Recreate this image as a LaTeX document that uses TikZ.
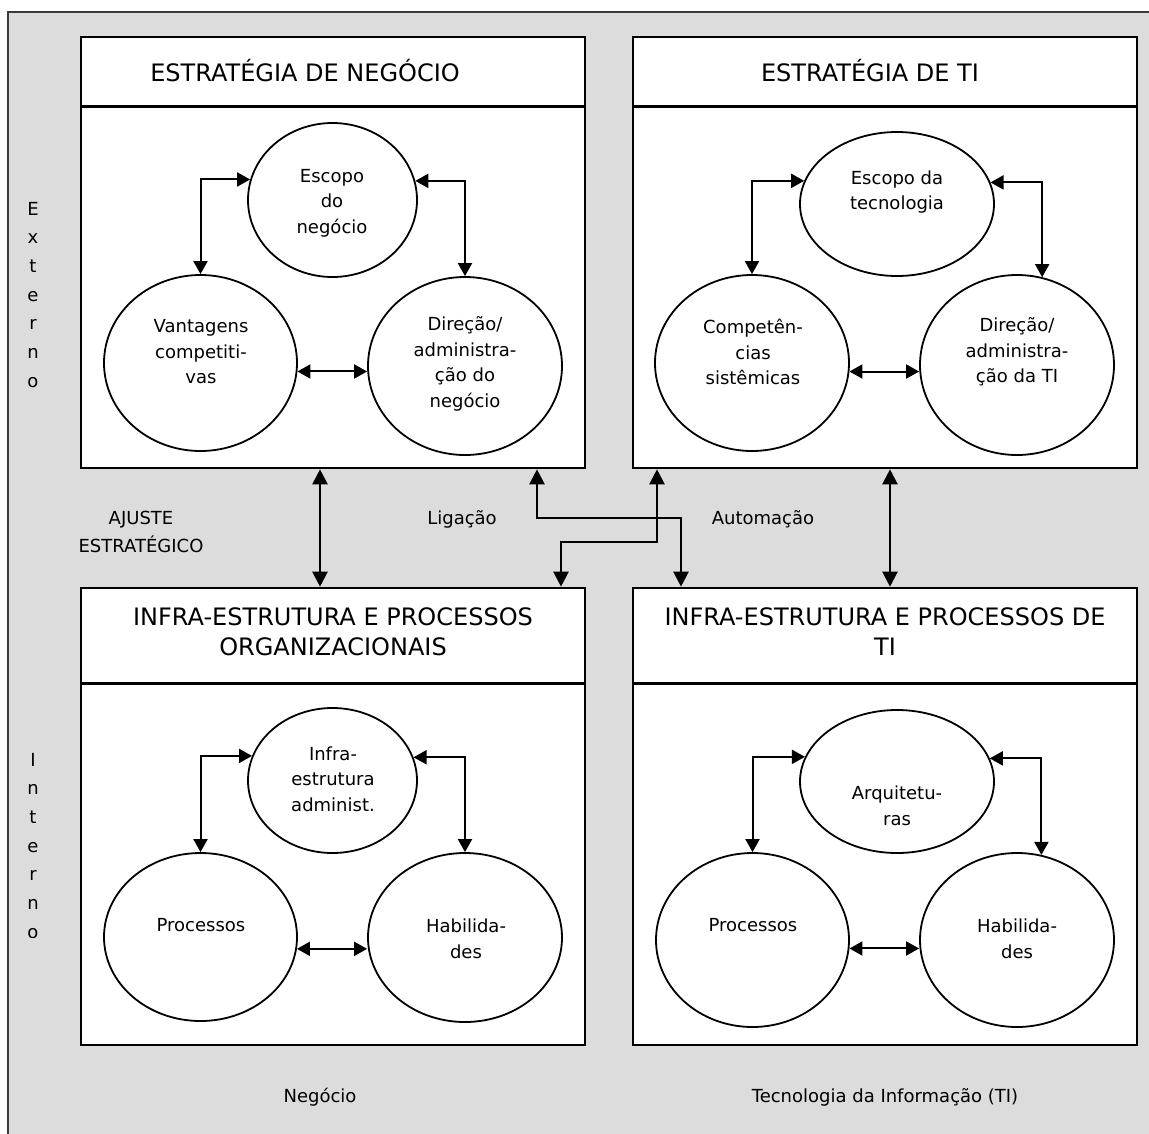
\documentclass[tikz,border=0pt]{standalone}
\usepackage{fontspec}
\setmainfont{DejaVu Sans}
\usetikzlibrary{shapes.geometric,arrows.meta}
\definecolor{bgray}{HTML}{DCDCDC}
\definecolor{fgray}{HTML}{3A3A3A}
\tikzset{
  box/.style={draw, line width=2.6pt, fill=white, inner sep=0, minimum width=504pt},
  ell/.style={ellipse, draw, line width=1.8pt, inner sep=0},
  txt/.style={align=center, inner sep=0, font=\fontsize{18}{25.5}\selectfont},
  head/.style={align=center, inner sep=0, font=\fontsize{24}{30}\selectfont},
  arr/.style={line width=2pt, {Triangle[length=13pt,width=14pt]}-{Triangle[length=13pt,width=14pt]}},
  bigarr/.style={line width=2.2pt, {Triangle[length=15pt,width=15pt]}-{Triangle[length=15pt,width=15pt]}},
  side/.style={anchor=base, inner sep=0, font=\fontsize{18}{22}\selectfont}
}
\begin{document}
\begin{tikzpicture}[x=1pt,y=-1pt]
\useasboundingbox (0,0) rectangle (1149,1133);
% background frame
\fill[bgray] (8,12) rectangle (1170,1150);
\draw[fgray, line width=1.7pt] (8,1150) -- (8,12) -- (1170,12);

% boxes
\node[box, minimum height=431pt] (TL) at (333,252.5) {};
\node[box, minimum height=431pt] (TR) at (885,252.5) {};
\node[box, minimum height=457pt] (BL) at (333,816.5) {};
\node[box, minimum height=457pt] (BR) at (885,816.5) {};
\draw[line width=2.6pt] ([yshift=-71pt]TL.north west) -- ([yshift=-71pt]TL.north east);
\draw[line width=2.6pt] ([yshift=-71pt]TR.north west) -- ([yshift=-71pt]TR.north east);
\draw[line width=2.6pt] ([yshift=-97pt]BL.north west) -- ([yshift=-97pt]BL.north east);
\draw[line width=2.6pt] ([yshift=-97pt]BR.north west) -- ([yshift=-97pt]BR.north east);

% headers
\node[head] (hTL) at (305,71) {ESTRATÉGIA DE NEGÓCIO};
\node[head] (hTR) at (870,71) {ESTRATÉGIA DE TI};
\node[head] (hBL) at (333,632) {INFRA-ESTRUTURA E PROCESSOS\\ORGANIZACIONAIS};
\node[head] (hBR) at (885,632) {INFRA-ESTRUTURA E PROCESSOS DE\\TI};

% ---- top-left ellipses
\node[ell, minimum width=169pt, minimum height=154pt] (e1) at (332.5,200) {};
\node[ell, minimum width=193pt, minimum height=176pt] (e2) at (200.5,363) {};
\node[ell, minimum width=194pt, minimum height=178pt] (e3) at (465,366) {};
\node[txt] (t1) at (332,203) {Escopo\\do\\negócio};
\node[txt] (t2) at (201,352) {Vantagens\\competiti-\\vas};
\node[txt] (t3) at (465,364) {Direção/\\administra-\\ção do\\negócio};
\draw[arr] (e1.166.2) -| (e2.north);
\draw[arr] (e1.13.8) -| (e3.north);
\draw[arr] (e2.-5.9) -- (e2.-5.9 -| e3.west);

% ---- top-right ellipses
\node[ell, minimum width=194pt, minimum height=144pt] (f1) at (897,204) {};
\node[ell, minimum width=194pt, minimum height=176pt] (f2) at (752,363) {};
\node[ell, minimum width=194pt, minimum height=180pt] (f3) at (1017,365) {};
\node[txt] (u1) at (897,192) {Escopo da\\tecnologia};
\node[txt] (u2) at (753,352) {Competên-\\cias\\sistêmicas};
\node[txt] (u3) at (1017,352) {Direção/\\administra-\\ção da TI};
\draw[arr] (f1.166.6) -| (f2.north);
\draw[arr] (f1.13.4) -| (f3.74.6);
\draw[arr] (f2.-5.9) -- (f2.-5.9 -| f3.west);

% ---- bottom-left ellipses
\node[ell, minimum width=169pt, minimum height=145pt] (g1) at (332.5,780.5) {};
\node[ell, minimum width=193pt, minimum height=168pt] (g2) at (200.5,937) {};
\node[ell, minimum width=194pt, minimum height=169pt] (g3) at (465,937.5) {};
\node[txt] (v1) at (333,779) {Infra-\\estrutura\\administ.};
\node[txt] (v2) at (201,925) {Processos};
\node[txt] (v3) at (466,939) {Habilida-\\des};
\draw[arr] (g1.163.6) -| (g2.north);
\draw[arr] (g1.16.4) -| (g3.north);
\draw[arr] (g2.-7.8) -- (g2.-7.8 -| g3.west);

% ---- bottom-right ellipses
\node[ell, minimum width=194pt, minimum height=143pt] (h1) at (897,781.5) {};
\node[ell, minimum width=193pt, minimum height=174pt] (h2) at (752.5,940) {};
\node[ell, minimum width=194pt, minimum height=174pt] (h3) at (1017,940) {};
\node[txt] (w1) at (897,806) {Arquitetu-\\ras};
\node[txt] (w2) at (753,925) {Processos};
\node[txt] (w3) at (1017,939) {Habilida-\\des};
\draw[arr] (h1.165.6) -| (h2.north);
\draw[arr] (h1.14.4) -| (h3.74.1);
\draw[arr] (h2.-5.9) -- (h2.-5.9 -| h3.west);

% ---- connectors between boxes
\draw[bigarr] ([xshift=-13pt]TL.south) -- ([xshift=-13pt]BL.north);
\draw[bigarr] ([xshift=5pt]TR.south) -- ([xshift=5pt]BR.north);
\draw[bigarr] ([xshift=204pt]TL.south) -- ++(0,49) -| ([xshift=-204pt]BR.north);
\draw[bigarr] ([xshift=-228pt]TR.south) -- ++(0,73) -| ([xshift=228pt]BL.north);

% labels
\node[txt, font=\fontsize{18}{28}\selectfont] (aj) at (141,532) {AJUSTE\\ESTRATÉGICO};
\node[txt] (lig) at (462,519) {Ligação};
\node[txt] (aut) at (763,519) {Automação};
\node[txt] (neg) at (320,1097) {Negócio};
\node[txt] (ti) at (885,1097) {Tecnologia da Informação (TI)};

% vertical words
\foreach \c [count=\i] in {E,x,t,e,r,n,o}
  \node[side] (ex\i) at (33,{215+(\i-1)*28.7}) {\c};
\begin{scope}
  \clip (0,0) rectangle (80,937);
  \foreach \c [count=\i] in {I,n,t,e,r,n,o}
    \node[side] (in\i) at (33,{766+(\i-1)*28.7}) {\c};
\end{scope}
\end{tikzpicture}
\end{document}
